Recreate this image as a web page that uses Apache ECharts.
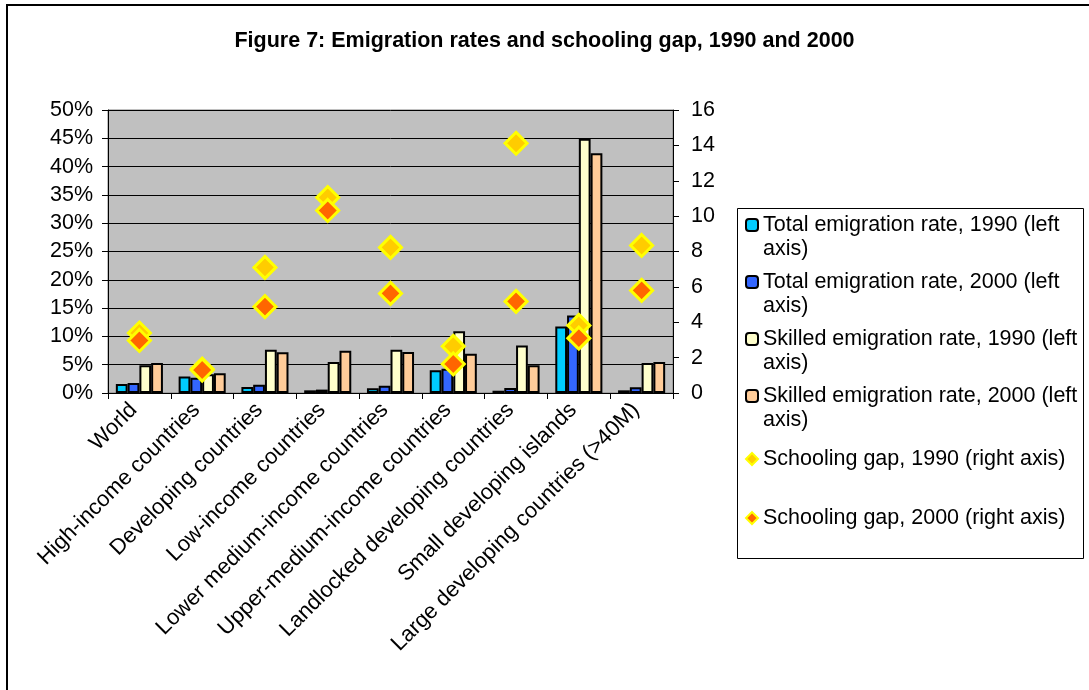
<!DOCTYPE html>
<html>
<head>
<meta charset="utf-8">
<script src="https://cdn.jsdelivr.net/npm/echarts@6/dist/echarts.min.js"></script>
<style>
  html, body { margin: 0; padding: 0; background: #fff; }
  #chart { width: 1089px; height: 690px; }
</style>
</head>
<body>
<div id="chart"></div>
<script>
// Country groups along the x axis
const categories = [
  'World',
  'High-income countries',
  'Developing countries',
  'Low-income countries',
  'Lower medium-income countries',
  'Upper-medium-income countries',
  'Landlocked developing countries',
  'Small developing islands',
  'Large developing countries (>40M)'
];

// Emigration rates (left axis, share)
const totalRate1990   = [0.016, 0.029, 0.0106, 0.0047, 0.0082, 0.040, 0.004, 0.1176, 0.0047];
const totalRate2000   = [0.0176, 0.027, 0.0147, 0.006, 0.013, 0.043, 0.009, 0.137, 0.010];
const skilledRate1990 = [0.049, 0.033, 0.0765, 0.0547, 0.0765, 0.109, 0.084, 0.449, 0.053];
const skilledRate2000 = [0.053, 0.035, 0.0718, 0.0747, 0.0724, 0.0694, 0.049, 0.4235, 0.0547];

// Schooling gap (right axis, years)
const schoolingGap1990 = [3.39, 1.35, 7.1, 11.05, 8.23, 2.64, 14.12, 3.82, 8.34];
const schoolingGap2000 = [2.97, 1.3, 4.88, 10.32, 5.63, 1.64, 5.18, 3.1, 5.8];

const leftTicks = { min: 0, max: 0.5, interval: 0.05 };
const rightTicks = { min: 0, max: 16, interval: 2 };

const names = [
  'Total emigration rate, 1990 (left axis)',
  'Total emigration rate, 2000 (left axis)',
  'Skilled emigration rate, 1990 (left axis)',
  'Skilled emigration rate, 2000 (left axis)',
  'Schooling gap, 1990 (right axis)',
  'Schooling gap, 2000 (right axis)'
];

const FONT = '"Liberation Sans", Arial, sans-serif';
const FS = 21.5;

function barSeries(name, data, color) {
  return {
    name: name,
    type: 'bar',
    data: data,
    barGap: '0%',
    barCategoryGap: '25%',
    itemStyle: { color: color, borderColor: '#000', borderWidth: 2 },
    z: 2
  };
}

function gapSeries(name, data, color, z) {
  return {
    name: name,
    type: 'scatter',
    yAxisIndex: 1,
    data: data,
    symbol: 'diamond',
    symbolSize: 22,
    itemStyle: { color: color, borderColor: '#FFFF00', borderWidth: 3, opacity: 1 },
    z: z
  };
}

// One legend block per entry, stacked down the right-hand box.
// Wrapped entries get an empty leading line so the marker sits beside the first line.
const legendRows = [
  { name: names[0], center: 225, wrap: true },
  { name: names[1], center: 282, wrap: true },
  { name: names[2], center: 339, wrap: true },
  { name: names[3], center: 396, wrap: true },
  { name: names[4], center: 459, wrap: false },
  { name: names[5], center: 518, wrap: false }
];

const legends = legendRows.map(function (row) {
  return {
    data: [row.name],
    left: 745,
    top: row.wrap ? row.center - 36 : row.center - 12,
    padding: 0,
    itemWidth: 12,
    itemHeight: 12,
    itemGap: 5,
    selectedMode: false,
    formatter: function (n) {
      return row.wrap ? '\n' + n.replace(' axis)', '\naxis)') : n;
    },
    textStyle: {
      fontFamily: FONT,
      fontSize: FS,
      color: '#000',
      lineHeight: 24
    }
  };
});

const chart = echarts.init(document.getElementById('chart'), null, { renderer: 'canvas' });

chart.setOption({
  animation: false,
  backgroundColor: '#fff',
  title: {
    text: 'Figure 7: Emigration rates and schooling gap, 1990 and 2000',
    left: 'center',
    top: 30,
    padding: [0, 0, 0, 27],
    textStyle: { fontFamily: FONT, fontSize: FS, fontWeight: 'bold', color: '#000' }
  },
  legend: legends,
  graphic: [
    {
      type: 'rect',
      shape: { x: 7, y: 5, width: 1200, height: 800 },
      style: { fill: 'none', stroke: '#000', lineWidth: 2 },
      silent: true
    },
    {
      type: 'rect',
      shape: { x: 737.5, y: 208.5, width: 346, height: 350 },
      style: { fill: 'none', stroke: '#000', lineWidth: 1 },
      silent: true
    }
  ],
  grid: {
    left: 108,
    right: 416,
    top: 110,
    bottom: 297,
    show: true,
    backgroundColor: '#C0C0C0',
    borderColor: '#808080',
    borderWidth: 1
  },
  xAxis: {
    type: 'category',
    data: categories,
    boundaryGap: true,
    axisLine: { lineStyle: { color: '#000', width: 1 } },
    axisTick: { show: true, length: 6, lineStyle: { color: '#000' } },
    axisLabel: {
      interval: 0,
      rotate: 45,
      margin: 8,
      padding: [0, 8, 0, 0],
      fontFamily: FONT,
      fontSize: 22,
      color: '#000'
    }
  },
  yAxis: [
    {
      type: 'value',
      min: leftTicks.min,
      max: leftTicks.max,
      interval: leftTicks.interval,
      axisLine: { show: true, lineStyle: { color: '#000' } },
      axisTick: { show: true, length: 6, lineStyle: { color: '#000' } },
      axisLabel: {
        margin: 15,
        fontFamily: FONT,
        fontSize: FS,
        color: '#000',
        formatter: function (v) { return Math.round(v * 100) + '%'; }
      },
      splitLine: { show: true, lineStyle: { color: '#000', width: 1 } }
    },
    {
      type: 'value',
      position: 'right',
      min: rightTicks.min,
      max: rightTicks.max,
      interval: rightTicks.interval,
      axisLine: { show: true, lineStyle: { color: '#000' } },
      axisTick: { show: true, length: 6, lineStyle: { color: '#000' } },
      axisLabel: { margin: 18, fontFamily: FONT, fontSize: FS, color: '#000' },
      splitLine: { show: false }
    }
  ],
  series: [
    barSeries(names[0], totalRate1990, '#00CCFF'),
    barSeries(names[1], totalRate2000, '#3366FF'),
    barSeries(names[2], skilledRate1990, '#FFFFCC'),
    barSeries(names[3], skilledRate2000, '#FFCC99'),
    gapSeries(names[4], schoolingGap1990, '#FFCC00', 5),
    gapSeries(names[5], schoolingGap2000, '#FF6600', 6)
  ]
});
</script>
</body>
</html>
